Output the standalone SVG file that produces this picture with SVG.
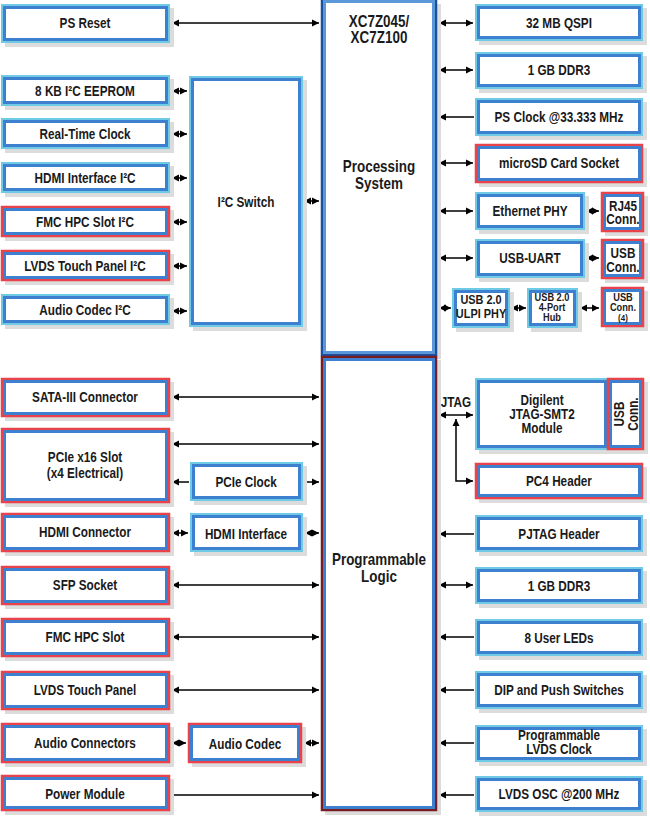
<svg xmlns="http://www.w3.org/2000/svg" width="650" height="821" viewBox="0 0 650 821">
<defs>
<marker id="ah" markerUnits="userSpaceOnUse" markerWidth="8" markerHeight="8" refX="7" refY="3.5" orient="auto-start-reverse" viewBox="0 0 8 7">
<path d="M0,0 L7,3.5 L0,7 Z" fill="#000"/>
</marker>
<style>
.sh{fill:#dcdcdc}
.bo{fill:#fff;stroke:#6ecae5;stroke-width:2}
.ro{fill:#fff;stroke:#e8434b;stroke-width:2.5}
.bi{fill:none;stroke:#3c80cf;stroke-width:3}
.pso{fill:#fff;stroke:#1d4f9f;stroke-width:2.5}
.psi{fill:none;stroke:#5a98da;stroke-width:3}
.plo{fill:#fff;stroke:#7a1d22;stroke-width:2.5}
.t{font-family:"Liberation Sans",Arial,sans-serif;font-weight:bold;font-size:14px;fill:#1a1a1a;text-anchor:middle;transform-box:fill-box;transform-origin:center;transform:scaleX(0.84)}
.s{font-size:11px}
.b{font-size:16px}
.c{stroke:#000;stroke-width:1.5;fill:none}
.d{marker-start:url(#ah);marker-end:url(#ah)}
.e{marker-end:url(#ah)}
</style>
</defs>

<g id="connectors">
<path class="c d" d="M172,23 H319"/>
<path class="c d" d="M172,91 H187"/>
<path class="c d" d="M172,134 H187"/>
<path class="c d" d="M172,178 H187"/>
<path class="c d" d="M172,222 H187"/>
<path class="c d" d="M172,266 H187"/>
<path class="c d" d="M172,311 H187"/>
<path class="c d" d="M304,201 H319"/>
<path class="c d" d="M172,397 H319"/>
<path class="c d" d="M172,444 H319"/>
<path class="c e" d="M189,482 H172"/>
<path class="c e" d="M305,482 H319"/>
<path class="c d" d="M172,533 H188"/>
<path class="c d" d="M305,533 H319"/>
<path class="c d" d="M172,585 H319"/>
<path class="c d" d="M172,637 H319"/>
<path class="c d" d="M172,690 H319"/>
<path class="c d" d="M172,743 H186"/>
<path class="c d" d="M304,743 H319"/>
<path class="c e" d="M170,795 H319"/>
<path class="c d" d="M439,23 H473"/>
<path class="c d" d="M439,70 H473"/>
<path class="c e" d="M474,117 H439"/>
<path class="c d" d="M439,163 H473"/>
<path class="c d" d="M439,211 H473"/>
<path class="c d" d="M586,211 H599"/>
<path class="c d" d="M439,258 H473"/>
<path class="c d" d="M586,258 H599"/>
<path class="c d" d="M439,308 H451"/>
<path class="c d" d="M511,308 H526"/>
<path class="c d" d="M580,308 H599"/>
<path class="c d" d="M439,415 H473"/>
<path class="c d" d="M456,419 V481 H473"/>
<path class="c e" d="M474,534 H439"/>
<path class="c d" d="M439,585 H473"/>
<path class="c e" d="M474,637 H439"/>
<path class="c e" d="M474,690 H439"/>
<path class="c e" d="M474,743 H439"/>
<path class="c e" d="M474,795 H439"/>
<text class="t" x="456" y="407">JTAG</text>
</g>

<g id="ps">
<rect class="sh" x="325" y="4" width="116" height="355"/>
<rect class="pso" x="322" y="-1" width="114" height="356"/>
<rect class="psi" x="324.5" y="1.5" width="109" height="351"/>
<text class="t b" x="379" y="27">XC7Z045/</text>
<text class="t b" x="379" y="43">XC7Z100</text>
<text class="t b" x="379" y="172">Processing</text>
<text class="t b" x="379" y="189">System</text>
</g>
<g id="pl">
<rect class="sh" x="325" y="360" width="116" height="455"/>
<rect class="plo" x="322" y="357" width="114" height="453"/>
<rect class="psi" x="324.5" y="359.5" width="109" height="448" style="stroke:#3c80cf"/>
<text class="t b" x="379" y="565">Programmable</text>
<text class="t b" x="379" y="582">Logic</text>
</g>

<g id="ps_reset"><rect class="sh" x="5" y="8" width="169" height="39"/><rect class="bo" x="2" y="5" width="167" height="37"/><rect class="bi" x="4.5" y="7.5" width="162" height="32"/><text class="t" x="85" y="28">PS Reset</text></g>
<g id="eeprom"><rect class="sh" x="5" y="79" width="169" height="31"/><rect class="bo" x="2" y="76" width="167" height="29"/><rect class="bi" x="4.5" y="78.5" width="162" height="24"/><text class="t" x="85" y="96">8 KB I²C EEPROM</text></g>
<g id="rtc"><rect class="sh" x="5" y="122" width="169" height="31"/><rect class="bo" x="2" y="119" width="167" height="29"/><rect class="bi" x="4.5" y="121.5" width="162" height="24"/><text class="t" x="85" y="139">Real-Time Clock</text></g>
<g id="hdmi_i2c"><rect class="sh" x="5" y="166" width="169" height="31"/><rect class="bo" x="2" y="163" width="167" height="29"/><rect class="bi" x="4.5" y="165.5" width="162" height="24"/><text class="t" x="85" y="183">HDMI Interface I²C</text></g>
<g id="fmc_i2c"><rect class="sh" x="5" y="210" width="169" height="31"/><rect class="ro" x="2" y="207" width="167" height="29"/><rect class="bi" x="4.5" y="209.5" width="162" height="24"/><text class="t" x="85" y="227">FMC HPC Slot I²C</text></g>
<g id="lvds_i2c"><rect class="sh" x="5" y="254" width="169" height="31"/><rect class="ro" x="2" y="251" width="167" height="29"/><rect class="bi" x="4.5" y="253.5" width="162" height="24"/><text class="t" x="85" y="271">LVDS Touch Panel I²C</text></g>
<g id="audio_i2c"><rect class="sh" x="5" y="298" width="169" height="31"/><rect class="bo" x="2" y="295" width="167" height="29"/><rect class="bi" x="4.5" y="297.5" width="162" height="24"/><text class="t" x="85" y="315">Audio Codec I²C</text></g>
<g id="i2c_switch"><rect class="sh" x="193" y="80" width="114" height="251"/><rect class="bo" x="190" y="77" width="112" height="249"/><rect class="bi" x="192.5" y="79.5" width="107" height="244"/><text class="t" x="246" y="207">I²C Switch</text></g>

<g id="sata"><rect class="sh" x="5" y="382" width="169" height="39"/><rect class="ro" x="2" y="379" width="167" height="37"/><rect class="bi" x="4.5" y="381.5" width="162" height="32"/><text class="t" x="85" y="402">SATA-III Connector</text></g>
<g id="pcie_slot"><rect class="sh" x="5" y="432" width="169" height="75"/><rect class="ro" x="2" y="429" width="167" height="73"/><rect class="bi" x="4.5" y="431.5" width="162" height="68"/><text class="t" x="85" y="462">PCIe x16 Slot</text><text class="t" x="85" y="478">(x4 Electrical)</text></g>
<g id="pcie_clock"><rect class="sh" x="194" y="466" width="113" height="39"/><rect class="bo" x="191" y="463" width="111" height="37"/><rect class="bi" x="193.5" y="465.5" width="106" height="32"/><text class="t" x="246" y="487">PCIe Clock</text></g>
<g id="hdmi_conn"><rect class="sh" x="5" y="517" width="169" height="39"/><rect class="ro" x="2" y="514" width="167" height="37"/><rect class="bi" x="4.5" y="516.5" width="162" height="32"/><text class="t" x="85" y="537">HDMI Connector</text></g>
<g id="hdmi_if"><rect class="sh" x="194" y="517" width="113" height="39"/><rect class="bo" x="191" y="514" width="111" height="37"/><rect class="bi" x="193.5" y="516.5" width="106" height="32"/><text class="t" x="246" y="539">HDMI Interface</text></g>
<g id="sfp"><rect class="sh" x="5" y="570" width="169" height="39"/><rect class="ro" x="2" y="567" width="167" height="37"/><rect class="bi" x="4.5" y="569.5" width="162" height="32"/><text class="t" x="85" y="590">SFP Socket</text></g>
<g id="fmc"><rect class="sh" x="5" y="622" width="169" height="39"/><rect class="ro" x="2" y="619" width="167" height="37"/><rect class="bi" x="4.5" y="621.5" width="162" height="32"/><text class="t" x="85" y="642">FMC HPC Slot</text></g>
<g id="lvds_panel"><rect class="sh" x="5" y="675" width="169" height="39"/><rect class="ro" x="2" y="672" width="167" height="37"/><rect class="bi" x="4.5" y="674.5" width="162" height="32"/><text class="t" x="85" y="695">LVDS Touch Panel</text></g>
<g id="audio_conn"><rect class="sh" x="5" y="727" width="169" height="40"/><rect class="ro" x="2" y="724" width="167" height="38"/><rect class="bi" x="4.5" y="726.5" width="162" height="33"/><text class="t" x="85" y="748">Audio Connectors</text></g>
<g id="audio_codec"><rect class="sh" x="192" y="727" width="114" height="40"/><rect class="ro" x="189" y="724" width="112" height="38"/><rect class="bi" x="191.5" y="726.5" width="107" height="33"/><text class="t" x="245" y="749">Audio Codec</text></g>
<g id="power"><rect class="sh" x="5" y="779" width="169" height="36"/><rect class="ro" x="2" y="776" width="167" height="34"/><rect class="bi" x="4.5" y="778.5" width="162" height="29"/><text class="t" x="85" y="799">Power Module</text></g>

<g id="qspi"><rect class="sh" x="479" y="8" width="168" height="37"/><rect class="bo" x="476" y="5" width="166" height="35"/><rect class="bi" x="478.5" y="7.5" width="161" height="30"/><text class="t" x="559" y="28">32 MB QSPI</text></g>
<g id="ddr3_ps"><rect class="sh" x="479" y="56" width="168" height="37"/><rect class="bo" x="476" y="53" width="166" height="35"/><rect class="bi" x="478.5" y="55.5" width="161" height="30"/><text class="t" x="559" y="75">1 GB DDR3</text></g>
<g id="ps_clock"><rect class="sh" x="479" y="102" width="168" height="38"/><rect class="bo" x="476" y="99" width="166" height="36"/><rect class="bi" x="478.5" y="101.5" width="161" height="31"/><text class="t" x="559" y="122">PS Clock @33.333 MHz</text></g>
<g id="microsd"><rect class="sh" x="479" y="148" width="168" height="39"/><rect class="ro" x="476" y="145" width="166" height="37"/><rect class="bi" x="478.5" y="147.5" width="161" height="32"/><text class="t" x="559" y="168">microSD Card Socket</text></g>
<g id="eth_phy"><rect class="sh" x="479" y="196" width="110" height="38"/><rect class="bo" x="476" y="193" width="108" height="36"/><rect class="bi" x="478.5" y="195.5" width="103" height="31"/><text class="t" x="530" y="216">Ethernet PHY</text></g>
<g id="rj45"><rect class="sh" x="605" y="196" width="43" height="40"/><rect class="ro" x="602" y="193" width="41" height="38"/><rect class="bi" x="604.5" y="195.5" width="36" height="33"/><text class="t" x="623" y="211">RJ45</text><text class="t" x="623" y="224">Conn.</text></g>
<g id="usb_uart"><rect class="sh" x="479" y="243" width="110" height="39"/><rect class="bo" x="476" y="240" width="108" height="37"/><rect class="bi" x="478.5" y="242.5" width="103" height="32"/><text class="t" x="530" y="263">USB-UART</text></g>
<g id="usb_conn1"><rect class="sh" x="605" y="243" width="43" height="40"/><rect class="ro" x="602" y="240" width="41" height="38"/><rect class="bi" x="604.5" y="242.5" width="36" height="33"/><text class="t" x="623" y="258">USB</text><text class="t" x="623" y="272">Conn.</text></g>
<g id="ulpi"><rect class="sh" x="456" y="292" width="58" height="40"/><rect class="bo" x="453" y="289" width="56" height="38"/><rect class="bi" x="455.5" y="291.5" width="51" height="33"/><text class="t" x="481" y="304" style="font-size:13px">USB 2.0</text><text class="t" x="481" y="318" style="font-size:13px">ULPI PHY</text></g>
<g id="hub"><rect class="sh" x="531" y="292" width="51" height="40"/><rect class="bo" x="528" y="289" width="49" height="38"/><rect class="bi" x="530.5" y="291.5" width="44" height="33"/><text class="t s" x="552" y="301.5">USB 2.0</text><text class="t s" x="552" y="311.5">4-Port</text><text class="t s" x="552" y="321.5">Hub</text></g>
<g id="usb_conn4"><rect class="sh" x="605" y="291" width="43" height="40"/><rect class="ro" x="602" y="288" width="41" height="38"/><rect class="bi" x="604.5" y="290.5" width="36" height="33"/><text class="t s" x="623" y="301.5">USB</text><text class="t s" x="623" y="311.5">Conn.</text><text class="t" x="623" y="321.5" style="font-size:9.5px">(4)</text></g>

<g id="digilent"><rect class="sh" x="479" y="382" width="169" height="72"/><rect class="bo" x="476" y="379" width="132" height="70"/><rect class="bi" x="478.5" y="381.5" width="127" height="65"/><text class="t" x="542" y="405">Digilent</text><text class="t" x="542" y="419">JTAG-SMT2</text><text class="t" x="542" y="433">Module</text></g>
<g id="usb_conn_v"><rect class="ro" x="608" y="379" width="35" height="70"/><rect class="bi" x="610.5" y="381.5" width="30" height="65"/><g transform="translate(625,414) rotate(-90)"><text class="t" x="0" y="-1">USB</text><text class="t" x="0" y="13">Conn.</text></g></g>
<g id="pc4"><rect class="sh" x="479" y="467" width="168" height="36"/><rect class="ro" x="476" y="464" width="166" height="34"/><rect class="bi" x="478.5" y="466.5" width="161" height="29"/><text class="t" x="559" y="486">PC4 Header</text></g>
<g id="pjtag"><rect class="sh" x="479" y="519" width="168" height="37"/><rect class="bo" x="476" y="516" width="166" height="35"/><rect class="bi" x="478.5" y="518.5" width="161" height="30"/><text class="t" x="559" y="539">PJTAG Header</text></g>
<g id="ddr3_pl"><rect class="sh" x="479" y="571" width="168" height="37"/><rect class="bo" x="476" y="568" width="166" height="35"/><rect class="bi" x="478.5" y="570.5" width="161" height="30"/><text class="t" x="559" y="591">1 GB DDR3</text></g>
<g id="leds"><rect class="sh" x="479" y="623" width="168" height="37"/><rect class="bo" x="476" y="620" width="166" height="35"/><rect class="bi" x="478.5" y="622.5" width="161" height="30"/><text class="t" x="559" y="643">8 User LEDs</text></g>
<g id="dip"><rect class="sh" x="479" y="675" width="168" height="38"/><rect class="bo" x="476" y="672" width="166" height="36"/><rect class="bi" x="478.5" y="674.5" width="161" height="31"/><text class="t" x="559" y="695">DIP and Push Switches</text></g>
<g id="prog_lvds"><rect class="sh" x="479" y="729" width="168" height="37"/><rect class="bo" x="476" y="726" width="166" height="35"/><rect class="bi" x="478.5" y="728.5" width="161" height="30"/><text class="t" x="559" y="740">Programmable</text><text class="t" x="559" y="754">LVDS Clock</text></g>
<g id="lvds_osc"><rect class="sh" x="479" y="780" width="168" height="36"/><rect class="bo" x="476" y="777" width="166" height="34"/><rect class="bi" x="478.5" y="779.5" width="161" height="29"/><text class="t" x="559" y="799">LVDS OSC @200 MHz</text></g>
</svg>
